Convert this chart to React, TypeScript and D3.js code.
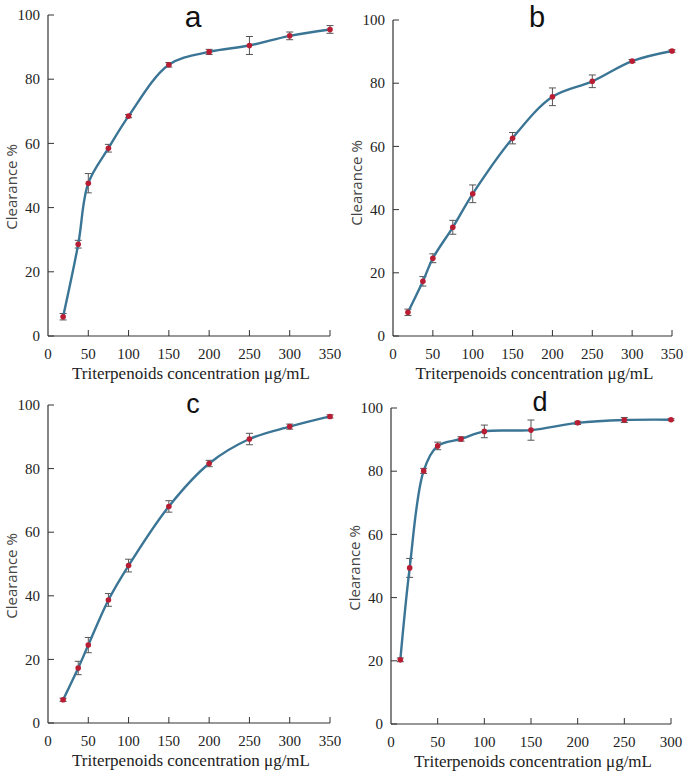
import React from "react";
import * as d3 from "d3";

// concentrations (µg/mL)
const concABC = [18.75, 37.5, 50, 75, 100, 150, 200, 250, 300, 350];
const concD = [10, 20, 35, 50, 75, 100, 150, 200, 250, 300];

// clearance % and error (SD)
const clearA = [6.0, 28.6, 47.6, 58.5, 68.5, 84.5, 88.5, 90.5, 93.5, 95.5];
const errA = [1.0, 1.2, 3.0, 1.2, 0.5, 0.7, 0.8, 2.8, 1.2, 1.2];
const clearB = [7.5, 17.3, 24.6, 34.4, 45.0, 62.6, 75.7, 80.6, 87.0, 90.2];
const errB = [1.0, 1.5, 1.4, 2.2, 2.8, 1.8, 2.8, 2.0, 0.5, 0.4];
const clearC = [7.3, 17.3, 24.5, 38.7, 49.5, 68.1, 81.6, 89.3, 93.2, 96.4];
const errC = [0.5, 2.1, 2.4, 2.0, 2.0, 1.8, 1.0, 1.8, 0.8, 0.5];
const clearD = [20.3, 49.4, 80.1, 88.0, 90.2, 92.6, 93.0, 95.3, 96.2, 96.3];
const errD = [0.6, 3.0, 0.8, 1.2, 0.7, 2.0, 3.2, 0.5, 0.8, 0.3];

const yTicks = [0, 20, 40, 60, 80, 100];
const xTicksABC = [0, 50, 100, 150, 200, 250, 300, 350];
const xTicksD = [0, 50, 100, 150, 200, 250, 300];

const xTitle = "Triterpenoids concentration  \u03bcg/mL";
const yTitle = "Clearance  %";

const LINE = "#3b7595";
const DOT = "#b81d33";
const AXIS = "#333";
const SERIF = "'Liberation Serif', 'Times New Roman', serif";

type PanelProps = {
  letter: string;
  letterSize: number;
  letterX: number;
  letterY: number;
  left: number;
  right: number;
  top: number;
  bottom: number;
  xMax: number;
  xTicks: number[];
  xs: number[];
  ys: number[];
  errs: number[];
  yTitleX: number;
  yTitleY: number;
};

function Panel(p: PanelProps) {
  const x = d3.scaleLinear().domain([0, p.xMax]).range([p.left, p.right]);
  const y = d3.scaleLinear().domain([0, 100]).range([p.bottom, p.top]);
  const pts = p.xs.map((c, i) => ({ c, v: p.ys[i], e: p.errs[i] }));
  const line = d3
    .line<{ c: number; v: number }>()
    .x((d) => x(d.c))
    .y((d) => y(d.v))
    .curve(d3.curveCatmullRom.alpha(0.5));
  const tick = 6;

  return (
    <g>
      {/* axes */}
      <line x1={p.left} x2={p.left} y1={p.top} y2={p.bottom} stroke={AXIS} strokeWidth={1.2} />
      <line x1={p.left} x2={p.right} y1={p.bottom} y2={p.bottom} stroke={AXIS} strokeWidth={1.2} />
      {yTicks.map((t) => (
        <g key={"y" + t}>
          <line x1={p.left} x2={p.left + tick} y1={y(t)} y2={y(t)} stroke={AXIS} strokeWidth={1} />
          <text
            x={p.left - 8}
            y={y(t)}
            dy="0.35em"
            textAnchor="end"
            fontFamily={SERIF}
            fontSize={15}
            fill="#222"
          >
            {t}
          </text>
        </g>
      ))}
      {p.xTicks.map((t) => (
        <g key={"x" + t}>
          {t > 0 && (
            <line x1={x(t)} x2={x(t)} y1={p.bottom} y2={p.bottom - tick} stroke={AXIS} strokeWidth={1} />
          )}
          <text
            x={x(t)}
            y={p.bottom + 23}
            textAnchor="middle"
            fontFamily={SERIF}
            fontSize={15}
            fill="#222"
          >
            {t}
          </text>
        </g>
      ))}
      <text
        x={(p.left + p.right) / 2 + 2}
        y={p.bottom + 43}
        textAnchor="middle"
        fontFamily={SERIF}
        fontSize={17}
        fill="#222"
      >
        {xTitle}
      </text>
      <text
        transform={`translate(${p.yTitleX},${p.yTitleY}) rotate(-90)`}
        textAnchor="middle"
        dy="0.35em"
        fontFamily="Open Sans"
        fontSize={15}
        fill="#444"
      >
        {yTitle}
      </text>
      <text
        x={p.letterX}
        y={p.letterY}
        textAnchor="middle"
        fontFamily="Liberation Sans"
        fontSize={p.letterSize}
        fill="#111"
      >
        {p.letter}
      </text>

      {/* error bars */}
      {pts.map((d, i) => (
        <g key={"e" + i} stroke="#555" strokeWidth={1}>
          <line x1={x(d.c)} x2={x(d.c)} y1={y(d.v - d.e)} y2={y(d.v + d.e)} />
          <line x1={x(d.c) - 3.5} x2={x(d.c) + 3.5} y1={y(d.v - d.e)} y2={y(d.v - d.e)} />
          <line x1={x(d.c) - 3.5} x2={x(d.c) + 3.5} y1={y(d.v + d.e)} y2={y(d.v + d.e)} />
        </g>
      ))}
      <path d={line(pts) || ""} fill="none" stroke={LINE} strokeWidth={2.4} />
      {pts.map((d, i) => (
        <circle key={"p" + i} cx={x(d.c)} cy={y(d.v)} r={2.8} fill={DOT} />
      ))}
    </g>
  );
}

export default function App() {
  return (
    <svg
      width={685}
      height={783}
      style={{ position: "absolute", left: 0, top: 0, background: "#fff" }}
    >
      <rect width={685} height={783} fill="#fff" />
      <Panel
        letter="a" letterSize={30} letterX={193} letterY={27}
        left={48} right={330} top={15} bottom={336}
        xMax={350} xTicks={xTicksABC} xs={concABC} ys={clearA} errs={errA}
        yTitleX={12} yTitleY={187}
      />
      <Panel
        letter="b" letterSize={29} letterX={537} letterY={27}
        left={393} right={672} top={20} bottom={336}
        xMax={350} xTicks={xTicksABC} xs={concABC} ys={clearB} errs={errB}
        yTitleX={357} yTitleY={183}
      />
      <Panel
        letter="c" letterSize={27} letterX={193} letterY={413}
        left={48} right={330} top={405} bottom={723}
        xMax={350} xTicks={xTicksABC} xs={concABC} ys={clearC} errs={errC}
        yTitleX={12} yTitleY={576}
      />
      <Panel
        letter="d" letterSize={27} letterX={540} letterY={411}
        left={391} right={671} top={408} bottom={724}
        xMax={300} xTicks={xTicksD} xs={concD} ys={clearD} errs={errD}
        yTitleX={355} yTitleY={568}
      />
    </svg>
  );
}
